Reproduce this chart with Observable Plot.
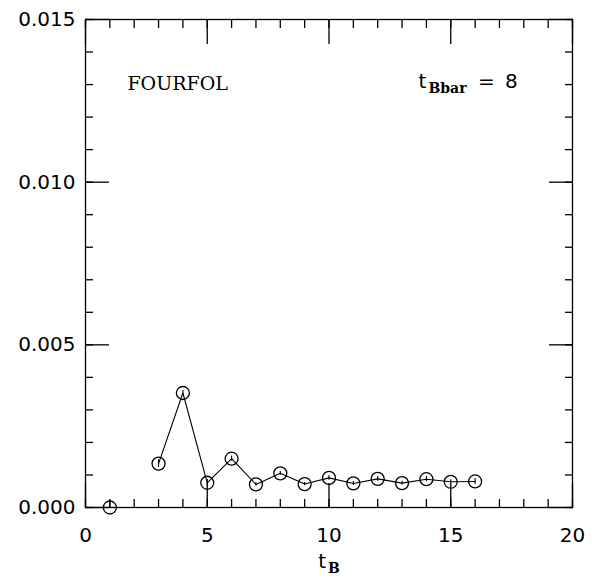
<!DOCTYPE html>
<html>
<head>
<meta charset="utf-8">
<script src="https://cdn.jsdelivr.net/npm/d3@7"></script>
<script src="https://cdn.jsdelivr.net/npm/@observablehq/plot@0.6"></script>
<style>
  html, body { margin: 0; padding: 0; background: white; }
</style>
</head>
<body>
<div id="chart"></div>
<script>
// ---- data ----
const tB      = [1, 3, 4, 5, 6, 7, 8, 9, 10, 11, 12, 13, 14, 15, 16];
const values  = [0.0000, 0.00135, 0.00352, 0.00076, 0.00150, 0.00071, 0.00105, 0.00072, 0.00091, 0.00074, 0.00088, 0.00075, 0.00087, 0.00079, 0.00080];
const errors  = [0.00022, 0.00012, 0.00008, 0.00010, 0.00008, 0.00005, 0.00006, 0.00005, 0.00007, 0.00006, 0.00007, 0.00006, 0.00008, 0.00006, 0.00009];

const xMajorTicks = [0, 5, 10, 15, 20];
const xMinorTicks = d3.range(0, 21, 1);
const yMajorTicks = [0, 0.005, 0.010, 0.015];
const yMinorTicks = d3.range(0, 16, 1).map(i => i * 0.001);

const labelText = "FOURFOL";
const labelPos = {x: 1.72, y: 0.01282};
const paramText = "t_Bbar = 8";
const paramPos = {x: 13.68, y: 0.01290};
const xLabelText = "t_B";

const data = tB.map((x, i) => ({x, y: values[i], e: errors[i]}));
const lineData = data.filter(d => d.x >= 3);

const tickOnly = () => "";
const sans = "DejaVu Sans";

const chart = Plot.plot({
  width: 592,
  height: 579,
  marginLeft: 85,
  marginRight: 20,
  marginTop: 19,
  marginBottom: 72,
  x: {domain: [0, 20]},
  y: {domain: [0, 0.015]},
  style: {fontFamily: sans, fontSize: "20px", background: "white", color: "black", overflow: "visible"},
  marks: [
    Plot.frame({stroke: "black", strokeWidth: 1.3}),
    // x ticks
    Plot.axisX(xMinorTicks, {anchor: "bottom", tickSize: -8, tickFormat: tickOnly, strokeWidth: 1.3, label: null}),
    Plot.axisX(xMinorTicks, {anchor: "top", tickSize: -8, tickFormat: tickOnly, strokeWidth: 1.3, label: null}),
    Plot.axisX(xMajorTicks, {anchor: "bottom", tickSize: -24, tickFormat: tickOnly, strokeWidth: 1.3, label: null}),
    Plot.axisX(xMajorTicks, {anchor: "top", tickSize: -24, tickFormat: tickOnly, strokeWidth: 1.3, label: null}),
    Plot.axisX(xMajorTicks, {anchor: "bottom", tickSize: 0, tickPadding: 20, tickFormat: d => String(d), fontSize: 20, label: null}),
    // y ticks
    Plot.axisY(yMinorTicks, {anchor: "left", tickSize: -8, tickFormat: tickOnly, strokeWidth: 1.3, label: null}),
    Plot.axisY(yMinorTicks, {anchor: "right", tickSize: -8, tickFormat: tickOnly, strokeWidth: 1.3, label: null}),
    Plot.axisY(yMajorTicks, {anchor: "left", tickSize: -24, tickFormat: tickOnly, strokeWidth: 1.3, label: null}),
    Plot.axisY(yMajorTicks, {anchor: "right", tickSize: -24, tickFormat: tickOnly, strokeWidth: 1.3, label: null}),
    Plot.axisY(yMajorTicks, {anchor: "left", tickSize: 0, tickPadding: 10, tickFormat: d3.format(".3f"), fontSize: 20, label: null}),
    // data
    Plot.line(lineData, {x: "x", y: "y", stroke: "black", strokeWidth: 1.1}),
    Plot.ruleX(data, {x: "x", y1: d => Math.max(0, d.y - d.e), y2: d => d.y + d.e, stroke: "black", strokeWidth: 1.1}),
    Plot.dot(data, {x: "x", y: "y", r: 6.5, stroke: "black", fill: "none", strokeWidth: 1.3}),
    // annotations
    Plot.text([labelText], {x: () => labelPos.x, y: () => labelPos.y, text: d => d, textAnchor: "start", lineAnchor: "bottom", fontFamily: "DejaVu Serif", fontSize: 19}),
    Plot.text([paramText], {x: () => paramPos.x, y: () => paramPos.y, text: d => d, textAnchor: "start", lineAnchor: "bottom", fontSize: 20}),
    Plot.text([xLabelText], {x: () => 10, y: () => 0, text: d => d, textAnchor: "middle", lineAnchor: "bottom", dy: 60, fontSize: 20})
  ]
});

document.getElementById("chart").appendChild(chart);

// Render subscripts as tspans
d3.select(chart).selectAll("text").each(function () {
  const t = this.textContent;
  const m = /^(t)_(\w+)(.*)$/.exec(t);
  if (!m) return;
  const el = d3.select(this);
  el.text(null);
  el.append("tspan").text(m[1]);
  el.append("tspan")
    .attr("font-family", "DejaVu Serif")
    .attr("font-weight", "bold")
    .attr("font-size", 14)
    .attr("dy", 5)
    .attr("dx", 2)
    .text(m[2]);
  if (m[3]) {
    el.append("tspan")
      .attr("dy", -5)
      .attr("dx", 5)
      .text(m[3].replace(/ = /, "\u00a0=\u00a0\u2009"));
  }
});
</script>
</body>
</html>
